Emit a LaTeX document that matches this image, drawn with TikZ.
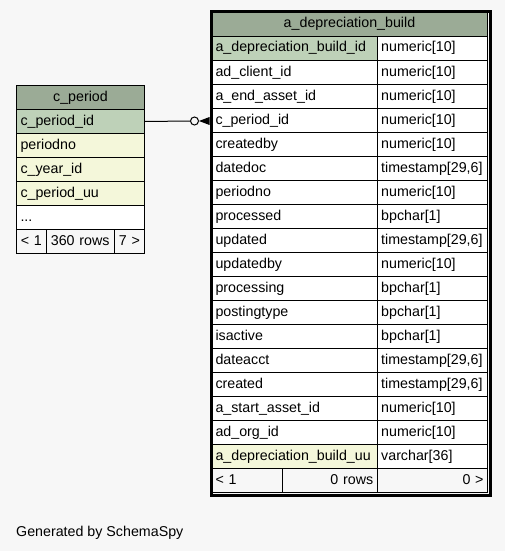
\documentclass[tikz,border=0pt]{standalone}
\usepackage{fontspec}
\setmainfont{Liberation Sans}
\usetikzlibrary{arrows.meta}
\definecolor{bgc}{HTML}{F7F7F7}
\definecolor{hdr}{HTML}{9BAB96}
\definecolor{pkc}{HTML}{BED1B8}
\definecolor{colc}{HTML}{F4F7DA}
\definecolor{ftc}{HTML}{F7F7F7}
\newcommand\cellfont{\fontsize{14.25}{16}\selectfont}
\tikzset{
  cellbase/.style={draw=black, line width=1pt, inner sep=4pt, minimum height=24pt,
    text height=10pt, text depth=3pt, font=\cellfont, anchor=north west},
  thickframe/.style={draw=black, line width=3pt, inner sep=0pt, anchor=north west},
  conn/.style={draw=black, line width=1pt},
}
\newcommand\tcell[7]{%
  \pgfmathsetmacro\cw{#4-#2}\pgfmathsetmacro\tw{#4-#2-8}%
  \node[cellbase, fill=#5, minimum width=\cw pt, text width=\tw pt, align=#6] (#1) at (#2,#3) {#7};}
\begin{document}
\begin{tikzpicture}[x=1pt,y=-1pt]
\fill[bgc] (0,0) rectangle (505,551);
\useasboundingbox (0,0) rectangle (505,551);

% ---- left table c_period
\tcell{lh}{16}{85}{144}{hdr}{center}{c\_period}
\tcell{l0}{16}{109}{144}{pkc}{left}{c\_period\_id}
\tcell{l1}{16}{133}{144}{colc}{left}{periodno}
\tcell{l2}{16}{157}{144}{colc}{left}{c\_year\_id}
\tcell{l3}{16}{181}{144}{colc}{left}{c\_period\_uu}
\tcell{l4}{16}{205}{144}{white}{left}{...}
\tcell{lf1}{16}{229}{45.7}{ftc}{center}{< 1}
\tcell{lf2}{45.7}{229}{113.7}{ftc}{center}{360 rows}
\tcell{lf3}{113.7}{229}{144}{ftc}{center}{7 >}

% ---- right table a_depreciation_build
\def\xa{211}\def\xb{376.7}\def\xc{487}
\tcell{rh}{\xa}{12}{\xc}{hdr}{center}{a\_depreciation\_build}
\tcell{rn0}{\xa}{36}{\xb}{pkc}{left}{a\_depreciation\_build\_id}
\tcell{rt0}{\xb}{36}{\xc}{white}{left}{numeric[10]}
\tcell{rn1}{\xa}{60}{\xb}{white}{left}{ad\_client\_id}
\tcell{rt1}{\xb}{60}{\xc}{white}{left}{numeric[10]}
\tcell{rn2}{\xa}{84}{\xb}{white}{left}{a\_end\_asset\_id}
\tcell{rt2}{\xb}{84}{\xc}{white}{left}{numeric[10]}
\tcell{rn3}{\xa}{108}{\xb}{white}{left}{c\_period\_id}
\tcell{rt3}{\xb}{108}{\xc}{white}{left}{numeric[10]}
\tcell{rn4}{\xa}{132}{\xb}{white}{left}{createdby}
\tcell{rt4}{\xb}{132}{\xc}{white}{left}{numeric[10]}
\tcell{rn5}{\xa}{156}{\xb}{white}{left}{datedoc}
\tcell{rt5}{\xb}{156}{\xc}{white}{left}{timestamp[29,6]}
\tcell{rn6}{\xa}{180}{\xb}{white}{left}{periodno}
\tcell{rt6}{\xb}{180}{\xc}{white}{left}{numeric[10]}
\tcell{rn7}{\xa}{204}{\xb}{white}{left}{processed}
\tcell{rt7}{\xb}{204}{\xc}{white}{left}{bpchar[1]}
\tcell{rn8}{\xa}{228}{\xb}{white}{left}{updated}
\tcell{rt8}{\xb}{228}{\xc}{white}{left}{timestamp[29,6]}
\tcell{rn9}{\xa}{252}{\xb}{white}{left}{updatedby}
\tcell{rt9}{\xb}{252}{\xc}{white}{left}{numeric[10]}
\tcell{rn10}{\xa}{276}{\xb}{white}{left}{processing}
\tcell{rt10}{\xb}{276}{\xc}{white}{left}{bpchar[1]}
\tcell{rn11}{\xa}{300}{\xb}{white}{left}{postingtype}
\tcell{rt11}{\xb}{300}{\xc}{white}{left}{bpchar[1]}
\tcell{rn12}{\xa}{324}{\xb}{white}{left}{isactive}
\tcell{rt12}{\xb}{324}{\xc}{white}{left}{bpchar[1]}
\tcell{rn13}{\xa}{348}{\xb}{white}{left}{dateacct}
\tcell{rt13}{\xb}{348}{\xc}{white}{left}{timestamp[29,6]}
\tcell{rn14}{\xa}{372}{\xb}{white}{left}{created}
\tcell{rt14}{\xb}{372}{\xc}{white}{left}{timestamp[29,6]}
\tcell{rn15}{\xa}{396}{\xb}{white}{left}{a\_start\_asset\_id}
\tcell{rt15}{\xb}{396}{\xc}{white}{left}{numeric[10]}
\tcell{rn16}{\xa}{420}{\xb}{white}{left}{ad\_org\_id}
\tcell{rt16}{\xb}{420}{\xc}{white}{left}{numeric[10]}
\tcell{rn17}{\xa}{444}{\xb}{colc}{left}{a\_depreciation\_build\_uu}
\tcell{rt17}{\xb}{444}{\xc}{white}{left}{varchar[36]}
\tcell{rf1}{\xa}{468}{281.7}{ftc}{left}{< 1}
\tcell{rf2}{281.7}{468}{\xb}{ftc}{right}{0 rows}
\tcell{rf3}{\xb}{468}{\xc}{ftc}{right}{0 >}
\node[thickframe, minimum width=279pt, minimum height=483pt] (rtab) at (209.5,10.5) {};

% ---- connector
\node[circle, draw=black, line width=1pt, fill=bgc, minimum size=8pt, inner sep=0pt] (odot) at (194.5,121) {};
\coordinate (crowbase) at (rtab.west |- odot);
\draw[conn] (l0.east) -- (odot.west);
\fill[black] (odot.east) -- ([yshift=4pt]crowbase) -- ([yshift=-4pt]crowbase) -- cycle;

\node[font=\cellfont, anchor=base west, inner sep=0pt] (gen) at (16,536) {Generated by SchemaSpy};
\end{tikzpicture}
\end{document}
